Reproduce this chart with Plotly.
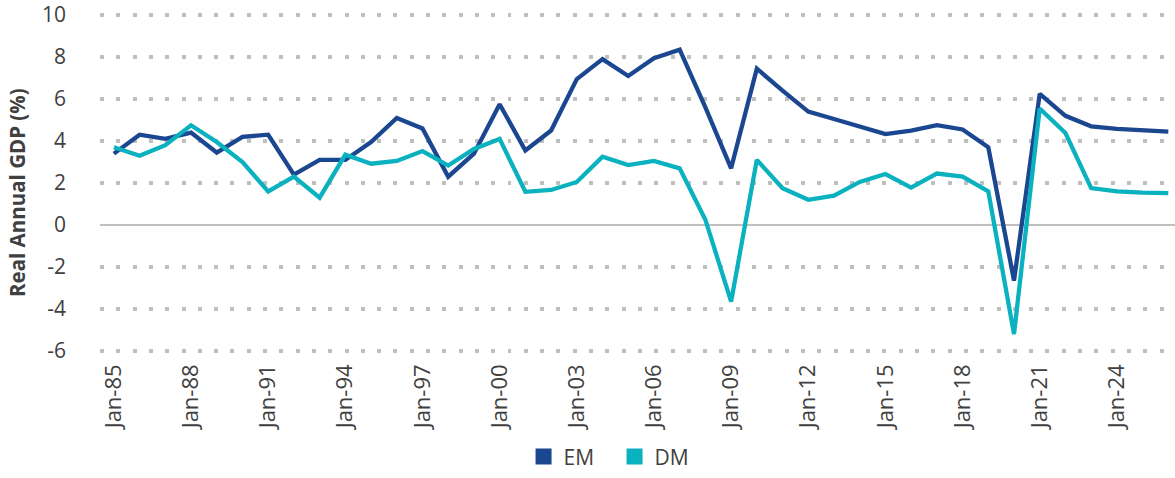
import plotly.graph_objects as go

years = list(range(1985, 2027))
em = [3.4, 4.3, 4.1, 4.4, 3.45, 4.2, 4.3, 2.4, 3.1, 3.1, 3.95, 5.1,
      4.6, 2.3, 3.4, 5.75, 3.55, 4.5, 6.95, 7.9, 7.1, 7.95, 8.35, 5.6,
      2.7, 7.45, 6.4, 5.4, 5.05, 4.7, 4.33, 4.5, 4.76, 4.55, 3.7, -2.65,
      6.25, 5.2, 4.7, 4.58, 4.53, 4.45]
dm = [3.7, 3.3, 3.8, 4.75, 3.95, 3.0, 1.6, 2.3, 1.3, 3.35, 2.92, 3.05,
      3.52, 2.83, 3.62, 4.1, 1.58, 1.67, 2.05, 3.25, 2.85, 3.05, 2.7, 0.25,
      -3.65, 3.1, 1.75, 1.2, 1.4, 2.05, 2.43, 1.78, 2.45, 2.3, 1.6, -5.2,
      5.55, 4.38, 1.76, 1.6, 1.54, 1.52]
tick_years = list(range(1985, 2025, 3))
tick_text = ["Jan-%02d" % (y % 100) for y in tick_years]
y_ticks = [-6, -4, -2, 0, 2, 4, 6, 8, 10]
y_text = [str(v) for v in y_ticks]
y_title = "Real Annual GDP (%)"

EM_COLOR = "#1B4690"
DM_COLOR = "#0AB1BF"
TXT = "#404040"
GRID = "#BFBFBF"
FONT = "Open Sans"

fig = go.Figure()
# invisible trace on yaxis2 so its dotted grid renders
fig.add_trace(go.Scatter(x=[None], y=[None], yaxis="y2", showlegend=False, hoverinfo="skip"))
fig.add_trace(go.Scatter(x=years, y=em, mode="lines", name="EM",
                         line=dict(color=EM_COLOR, width=4.3), showlegend=False))
fig.add_trace(go.Scatter(x=years, y=dm, mode="lines", name="DM",
                         line=dict(color=DM_COLOR, width=4.3), showlegend=False))
# legend-only entries with square swatches
fig.add_trace(go.Scatter(x=[None], y=[None], mode="markers", name="EM",
                         marker=dict(symbol="square", size=16, color=EM_COLOR)))
fig.add_trace(go.Scatter(x=[None], y=[None], mode="markers", name="DM",
                         marker=dict(symbol="square", size=16, color=DM_COLOR)))

fig.update_layout(
    width=1175, height=478,
    margin=dict(l=100, r=0, t=13, b=125, autoexpand=False),
    paper_bgcolor="white", plot_bgcolor="white",
    font=dict(family=FONT, color=TXT, size=21),
    showlegend=True,
    legend=dict(orientation="h", x=0.394, xanchor="left", y=-0.366, yanchor="bottom",
                font=dict(size=21, color=TXT), itemwidth=30, entrywidth=46,
                entrywidthmode="pixels", traceorder="normal"),
    xaxis=dict(range=[1984.46, 2026.26], tickvals=tick_years, ticktext=tick_text,
               tickangle=-90, showgrid=False, zeroline=False, showline=False,
               ticks="", tickfont=dict(size=22, color=TXT), ticklabelstandoff=6,
               automargin=False),
    yaxis=dict(range=[-6.1, 10.1], tickvals=y_ticks, ticktext=y_text, showgrid=False,
               zeroline=True, zerolinecolor=GRID, zerolinewidth=2,
               ticks="", tickfont=dict(size=21, color=TXT), ticklabelstandoff=33,
               automargin=False),
    yaxis2=dict(range=[-6.1, 10.1], overlaying="y", tickvals=[v for v in y_ticks if v != 0],
                showgrid=True, gridcolor=GRID, gridwidth=4, griddash="4px,12.3px",
                showticklabels=False, zeroline=False, ticks=""),
    annotations=[dict(text="<b>" + y_title + "</b>", textangle=-90, showarrow=False,
                      xref="paper", yref="paper", x=-0.0772, y=0.4706,
                      xanchor="center", yanchor="middle",
                      font=dict(size=20.5, color=TXT, family=FONT))],
)

fig.write_html("out.html", post_script="document.body.style.margin='0';",
               config={"displayModeBar": False})
